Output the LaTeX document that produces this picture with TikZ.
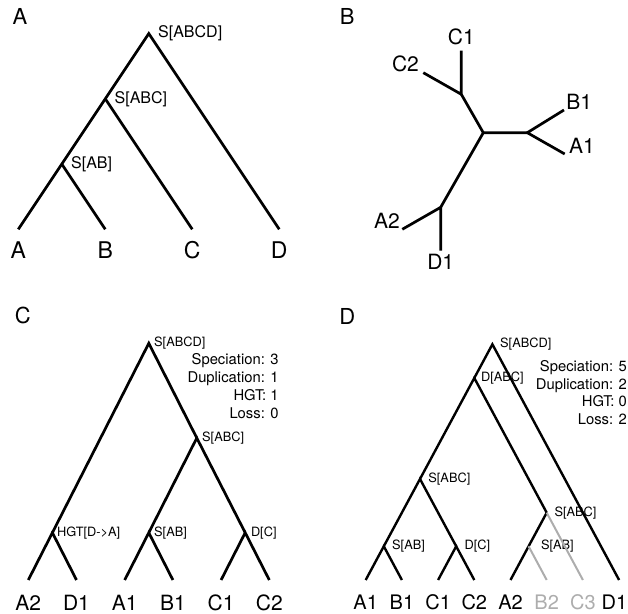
\documentclass[tikz,border=0pt]{standalone}
\usepackage{fontspec}
\setmainfont{TeX Gyre Heros}
\usetikzlibrary{positioning}
\definecolor{lostgray}{gray}{0.68}
\tikzset{
  branch/.style={line width=1.35pt},
  lost/.style={line width=1pt, draw=lostgray},
  panel/.style={font=\fontsize{11}{13}\selectfont, anchor=base},
  taxon/.style={font=\fontsize{11.5}{13}\selectfont, anchor=base, inner sep=0pt},
  tip/.style={font=\fontsize{10.5}{12}\selectfont, inner sep=0pt},
  event/.style={font=\fontsize{6.4}{7}\selectfont, inner sep=0pt},
  tally/.style={font=\fontsize{7.4}{9}\selectfont, anchor=base east, inner sep=0pt}
}

\begin{document}
\begin{tikzpicture}[x=0.5pt, y=-0.5pt]
\useasboundingbox (0,0) rectangle (628,614);

% A: species tree
\node[panel] (a-panel) at (20,25) {A};
\coordinate (a-root) at (148.8,33.55);
\coordinate (a-abc) at (105.3,98.8);
\coordinate (a-ab) at (61.8,164.05);
\foreach \leaf [count=\i from 0] in {A,B,C,D} {
	\coordinate (a-\leaf) at ({18.3+87*\i},229.3);
	\node[taxon] (a-\leaf-name) at ({18.3+87*\i},258.3) {\leaf};
}
\draw[branch] (a-A) -- (a-ab) -- (a-abc) -- (a-root) -- (a-D);
\draw[branch] (a-abc) -- (a-C);
\draw[branch] (a-ab) -- (a-B);
\node[event, font=\fontsize{8}{9}\selectfont, right=4.5pt of a-root] (a-root-tag) {S[ABCD]};
\node[event, font=\fontsize{8}{9}\selectfont, right=4.5pt of a-abc] (a-abc-tag) {S[ABC]};
\node[event, font=\fontsize{8}{9}\selectfont, right=4.5pt of a-ab] (a-ab-tag) {S[AB]};

% B: unrooted gene tree
\node[panel] (b-panel) at (347.3,25) {B};
\coordinate (b-mid) at (483.3,132.7);
\coordinate (b-ab) at (527.3,132.7);
\coordinate (b-B1) at (564,110);
\coordinate (b-A1) at (564.7,154);
\coordinate (b-cc) at (461.3,94.3);
\coordinate (b-C1) at (461.3,50.7);
\coordinate (b-C2) at (423.3,72.7);
\coordinate (b-ad) at (440.7,207.3);
\coordinate (b-A2) at (402.3,229.3);
\coordinate (b-D1) at (440.7,250.7);
\draw[branch] (b-cc) -- (b-mid) -- (b-ab);
\draw[branch] (b-mid) -- (b-ad);
\draw[branch] (b-B1) -- (b-ab) -- (b-A1);
\draw[branch] (b-C1) -- (b-cc) -- (b-C2);
\draw[branch] (b-A2) -- (b-ad) -- (b-D1);
\node[tip, above=2.5pt of b-C1] (b-C1-name) {C1};
\node[tip, above left=0pt and 2pt of b-C2] (b-C2-name) {C2};
\node[tip, above right=0pt and 1pt of b-B1] (b-B1-name) {B1};
\node[tip, above right=0pt and 2pt of b-A1] (b-A1-name) {A1};
\node[tip, above left=0pt and 1pt of b-A2] (b-A2-name) {A2};
\node[tip, below=1.5pt of b-D1] (b-D1-name) {D1};

% C: reconciliation with a transfer
\node[panel] (c-panel) at (22.7,324) {C};
\foreach \leaf [count=\i from 0] in {A2,D1,A1,B1,C1,C2} {
	\coordinate (c-\leaf) at ({28.3+48.2*\i},580);
	\node[taxon, font=\fontsize{10.5}{12}\selectfont] (c-\leaf-name) at ({28.3+48.2*\i},611) {\leaf};
}
\coordinate (c-root) at (148.8,343.3);
\coordinate (c-abc) at (196.8,438.0);
\coordinate (c-hgt) at (52.4,532.7);
\coordinate (c-ab) at (148.8,532.7);
\coordinate (c-dc) at (245.2,532.7);
\draw[branch] (c-hgt) -- (c-root) -- (c-abc);
\draw[branch] (c-A2) -- (c-hgt) -- (c-D1);
\draw[branch] (c-ab) -- (c-abc) -- (c-dc);
\draw[branch] (c-A1) -- (c-ab) -- (c-B1);
\draw[branch] (c-C1) -- (c-dc) -- (c-C2);
\node[event, right=2.5pt of c-root] (c-root-tag) {S[ABCD]};
\node[event, right=2.5pt of c-abc] (c-abc-tag) {S[ABC]};
\node[event, right=2.2pt of c-hgt] (c-hgt-tag) {HGT[D->A]};
\node[event, right=2.5pt of c-ab] (c-ab-tag) {S[AB]};
\node[event, right=2.7pt of c-dc] (c-dc-tag) {D[C]};
\foreach \score [count=\i from 0] in {Speciation: 3,Duplication: 1,HGT: 1,Loss: 0}
	\node[tally] (c-tally-\i) at (279,{365+17.7*\i}) {\score};

% D: reconciliation with duplication and losses
\node[panel] (d-panel) at (347.3,325) {D};
\foreach \leaf/\shade [count=\i from 0] in {A1/black,B1/black,C1/black,C2/black,A2/black,B2/lostgray,C3/lostgray,D1/black} {
	\coordinate (d-\leaf) at ({365.7+36.2*\i},580);
	\node[taxon, font=\fontsize{10}{12}\selectfont, text=\shade] (d-\leaf-name) at ({min(365.7+36.2*\i,614.5)},609.5) {\leaf};
}
\coordinate (d-root) at (492.4,344.3);
\coordinate (d-dabc) at (474.3,378.0);
\coordinate (d-abc1) at (420.0,479.0);
\coordinate (d-ab1) at (383.8,546.3);
\coordinate (d-dc) at (456.2,546.3);
\coordinate (d-abc2) at (546.7,512.7);
\coordinate (d-ab2) at (528.6,546.3);
\node[event, right=3.7pt of d-root] (d-root-tag) {S[ABCD]};
\node[event, right=3.2pt of d-dabc] (d-dabc-tag) {D[ABC]};
\node[event, right=4pt of d-abc1] (d-abc1-tag) {S[ABC]};
\node[event, right=4pt of d-ab1] (d-ab1-tag) {S[AB]};
\node[event, right=4pt of d-dc] (d-dc-tag) {D[C]};
\node[event, right=3.7pt of d-abc2] (d-abc2-tag) {S[ABC]};
\node[event, right=6pt of d-ab2] (d-ab2-tag) {S[AB]};
\draw[branch, line width=1.2pt] (d-dabc) -- (d-root) -- (d-D1);
\draw[branch, line width=1.2pt] (d-abc1) -- (d-dabc) -- (d-abc2);
\draw[branch, line width=1.2pt] (d-ab1) -- (d-abc1) -- (d-dc);
\draw[branch, line width=1.2pt] (d-A1) -- (d-ab1) -- (d-B1);
\draw[branch, line width=1.2pt] (d-C1) -- (d-dc) -- (d-C2);
\draw[branch, line width=1.2pt] (d-A2) -- (d-ab2) -- (d-abc2);
\draw[lost] (d-ab2) -- (d-B2);
\draw[lost] (d-abc2) -- (d-C3);
\foreach \score [count=\i from 0] in {Speciation: 5,Duplication: 2,HGT: 0,Loss: 2}
	\node[tally] (d-tally-\i) at (627.3,{372+17.5*\i}) {\score};
\end{tikzpicture}
\end{document}
